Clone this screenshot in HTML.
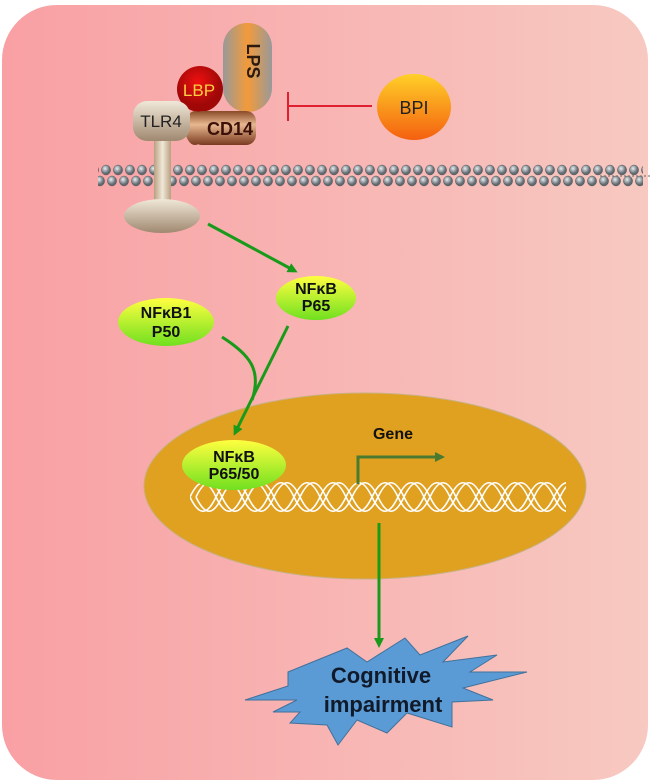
<!DOCTYPE html>
<html><head><meta charset="utf-8"><style>
body{margin:0;background:#fff}
svg{display:block;font-family:"Liberation Sans",sans-serif}
</style></head><body>
<svg width="650" height="783" viewBox="0 0 650 783">
<defs>
<linearGradient id="bg" x1="0" x2="1"><stop offset="0" stop-color="#f9a0a4"/><stop offset="1" stop-color="#f7c9c1"/></linearGradient>
<linearGradient id="lps" x1="0" x2="1"><stop offset="0" stop-color="#999"/><stop offset=".5" stop-color="#f39a3a"/><stop offset="1" stop-color="#999"/></linearGradient>
<radialGradient id="lbp" cx=".45" cy=".35"><stop offset="0" stop-color="#f01010"/><stop offset="1" stop-color="#a00808"/></radialGradient>
<linearGradient id="tan" x1="0" x2="0" y1="0" y2="1"><stop offset="0" stop-color="#f0e8d8"/><stop offset="1" stop-color="#a08870"/></linearGradient>
<linearGradient id="stem" x1="0" x2="1"><stop offset="0" stop-color="#b8a080"/><stop offset=".5" stop-color="#f0e8d8"/><stop offset="1" stop-color="#b8a080"/></linearGradient>
<linearGradient id="cd" x1="0" x2="0" y1="0" y2="1"><stop offset="0" stop-color="#8a4a28"/><stop offset=".4" stop-color="#e8b890"/><stop offset="1" stop-color="#7a3a20"/></linearGradient>
<linearGradient id="bpi" x1="0" x2="0" y1="0" y2="1"><stop offset="0" stop-color="#ffd028"/><stop offset="1" stop-color="#f46010"/></linearGradient>
<linearGradient id="nf" x1="0" x2="0" y1="0" y2="1"><stop offset="0" stop-color="#ffff40"/><stop offset="1" stop-color="#70e020"/></linearGradient>
<radialGradient id="bead" cx=".4" cy=".35"><stop offset="0" stop-color="#e8eef0"/><stop offset="1" stop-color="#606870"/></radialGradient>
<marker id="ga2" markerWidth="10" markerHeight="10" refX="7" refY="5" orient="auto" markerUnits="userSpaceOnUse"><path d="M0,0 L10,5 L0,10z" fill="#1a9a1a"/></marker>
<marker id="dg" markerWidth="10" markerHeight="10" refX="7" refY="5" orient="auto" markerUnits="userSpaceOnUse"><path d="M0,0 L10,5 L0,10z" fill="#4a7a30"/></marker>
<pattern id="mem" x="100" y="0" width="12" height="783" patternUnits="userSpaceOnUse">
<ellipse cx="6" cy="170" rx="4.6" ry="5" fill="url(#bead)" stroke="#555" stroke-width=".5"/>
<ellipse cx="0" cy="181" rx="4.6" ry="5" fill="url(#bead)" stroke="#555" stroke-width=".5"/>
<ellipse cx="12" cy="181" rx="4.6" ry="5" fill="url(#bead)" stroke="#555" stroke-width=".5"/>
</pattern>
<path id="hx" d="M0,0 c9,-19 17,-19 26,0 c9,19 17,19 26,0 c9,-19 17,-19 26,0 c9,19 17,19 26,0 c9,-19 17,-19 26,0 c9,19 17,19 26,0 c9,-19 17,-19 26,0 c9,19 17,19 26,0 c9,-19 17,-19 26,0 c9,19 17,19 26,0 c9,-19 17,-19 26,0 c9,19 17,19 26,0 c9,-19 17,-19 26,0 c9,19 17,19 26,0 c9,-19 17,-19 26,0"/>
</defs>
<rect x="2" y="5" width="646" height="775" rx="55" fill="url(#bg)"/>
<rect x="98" y="163" width="545" height="24" fill="url(#mem)"/>
<line x1="600" y1="176" x2="650" y2="176" stroke="#666" stroke-dasharray="2,2"/>
<rect x="154" y="138" width="17" height="65" fill="url(#stem)"/>
<ellipse cx="162" cy="216" rx="38" ry="17" fill="url(#tan)"/>
<rect x="223" y="23" width="49" height="89" rx="24" fill="url(#lps)"/>
<text x="241" y="67" font-size="18" font-weight="bold" fill="#2a1a10" transform="rotate(90 247 67)" text-anchor="middle">LPS</text>
<circle cx="200" cy="89" r="23" fill="url(#lbp)"/>
<text x="199" y="96" font-size="17" fill="#ffd040" text-anchor="middle">LBP</text>
<rect x="192" y="111" width="64" height="34" rx="10" fill="url(#cd)"/>
<ellipse cx="195" cy="128" rx="10" ry="17" fill="url(#cd)"/>
<text x="230" y="135" font-size="18" font-weight="bold" fill="#3a1008" text-anchor="middle">CD14</text>
<rect x="133" y="101" width="57" height="40" rx="14" fill="url(#tan)"/>
<text x="161" y="127" font-size="17" fill="#222" text-anchor="middle">TLR4</text>
<line x1="372" y1="106" x2="289" y2="106" stroke="#e02030" stroke-width="2"/>
<line x1="288" y1="92" x2="288" y2="121" stroke="#e02030" stroke-width="2"/>
<ellipse cx="414" cy="107" rx="37" ry="33" fill="url(#bpi)"/>
<text x="414" y="114" font-size="18" fill="#222" text-anchor="middle">BPI</text>
<line x1="208" y1="224" x2="295" y2="271" stroke="#1a9a1a" stroke-width="3" marker-end="url(#ga2)"/>
<ellipse cx="316" cy="298" rx="40" ry="22" fill="url(#nf)"/>
<text x="316" y="294" font-size="16" font-weight="bold" fill="#111" text-anchor="middle">NFκB</text>
<text x="316" y="311" font-size="16" font-weight="bold" fill="#111" text-anchor="middle">P65</text>
<ellipse cx="166" cy="322" rx="48" ry="24" fill="url(#nf)"/>
<text x="166" y="318" font-size="16" font-weight="bold" fill="#111" text-anchor="middle">NFκB1</text>
<text x="166" y="337" font-size="16" font-weight="bold" fill="#111" text-anchor="middle">P50</text>
<ellipse cx="365" cy="486" rx="221" ry="93" fill="#e0a020" stroke="#c8b080" stroke-width="1"/>
<path d="M222,337 C250,355 262,370 252,400" stroke="#1a9a1a" stroke-width="3" fill="none"/>
<line x1="288" y1="326" x2="235" y2="433" stroke="#1a9a1a" stroke-width="3" marker-end="url(#ga2)"/>
<svg x="190" y="470" width="376" height="50" viewBox="0 -27 376 50" overflow="hidden">
<g stroke="#fff" stroke-width="1.6" fill="none">
<use href="#hx"/>
<use href="#hx" transform="translate(6,0)"/>
<use href="#hx" transform="scale(1,-1)"/>
<use href="#hx" transform="translate(6,0) scale(1,-1)"/>
</g>
</svg>
<ellipse cx="234" cy="465" rx="52" ry="25" fill="url(#nf)"/>
<text x="234" y="462" font-size="16" font-weight="bold" fill="#111" text-anchor="middle">NFκB</text>
<text x="234" y="479" font-size="16" font-weight="bold" fill="#111" text-anchor="middle">P65/50</text>
<text x="393" y="439" font-size="16" font-weight="bold" fill="#111" text-anchor="middle">Gene</text>
<path d="M358,484 L358,457 L442,457" stroke="#4a7a30" stroke-width="3" fill="none" marker-end="url(#dg)"/>
<line x1="379" y1="523" x2="379" y2="645" stroke="#1a9a1a" stroke-width="3" marker-end="url(#ga2)"/>
<polygon points="288,672 347,648 367,662 405,638 420,655 468,636 443,662 497,655 470,672 527,672 463,688 493,700 452,702 452,727 407,713 387,733 357,720 338,745 327,725 290,723 300,712 273,712 297,700 245,700 288,686" fill="#5b9bd5" stroke="#41719c" stroke-width="1"/>
<text x="381" y="683" font-size="22" font-weight="bold" fill="#111a2a" text-anchor="middle">Cognitive</text>
<text x="383" y="712" font-size="22" font-weight="bold" fill="#111a2a" text-anchor="middle">impairment</text>
</svg>
</body></html>
